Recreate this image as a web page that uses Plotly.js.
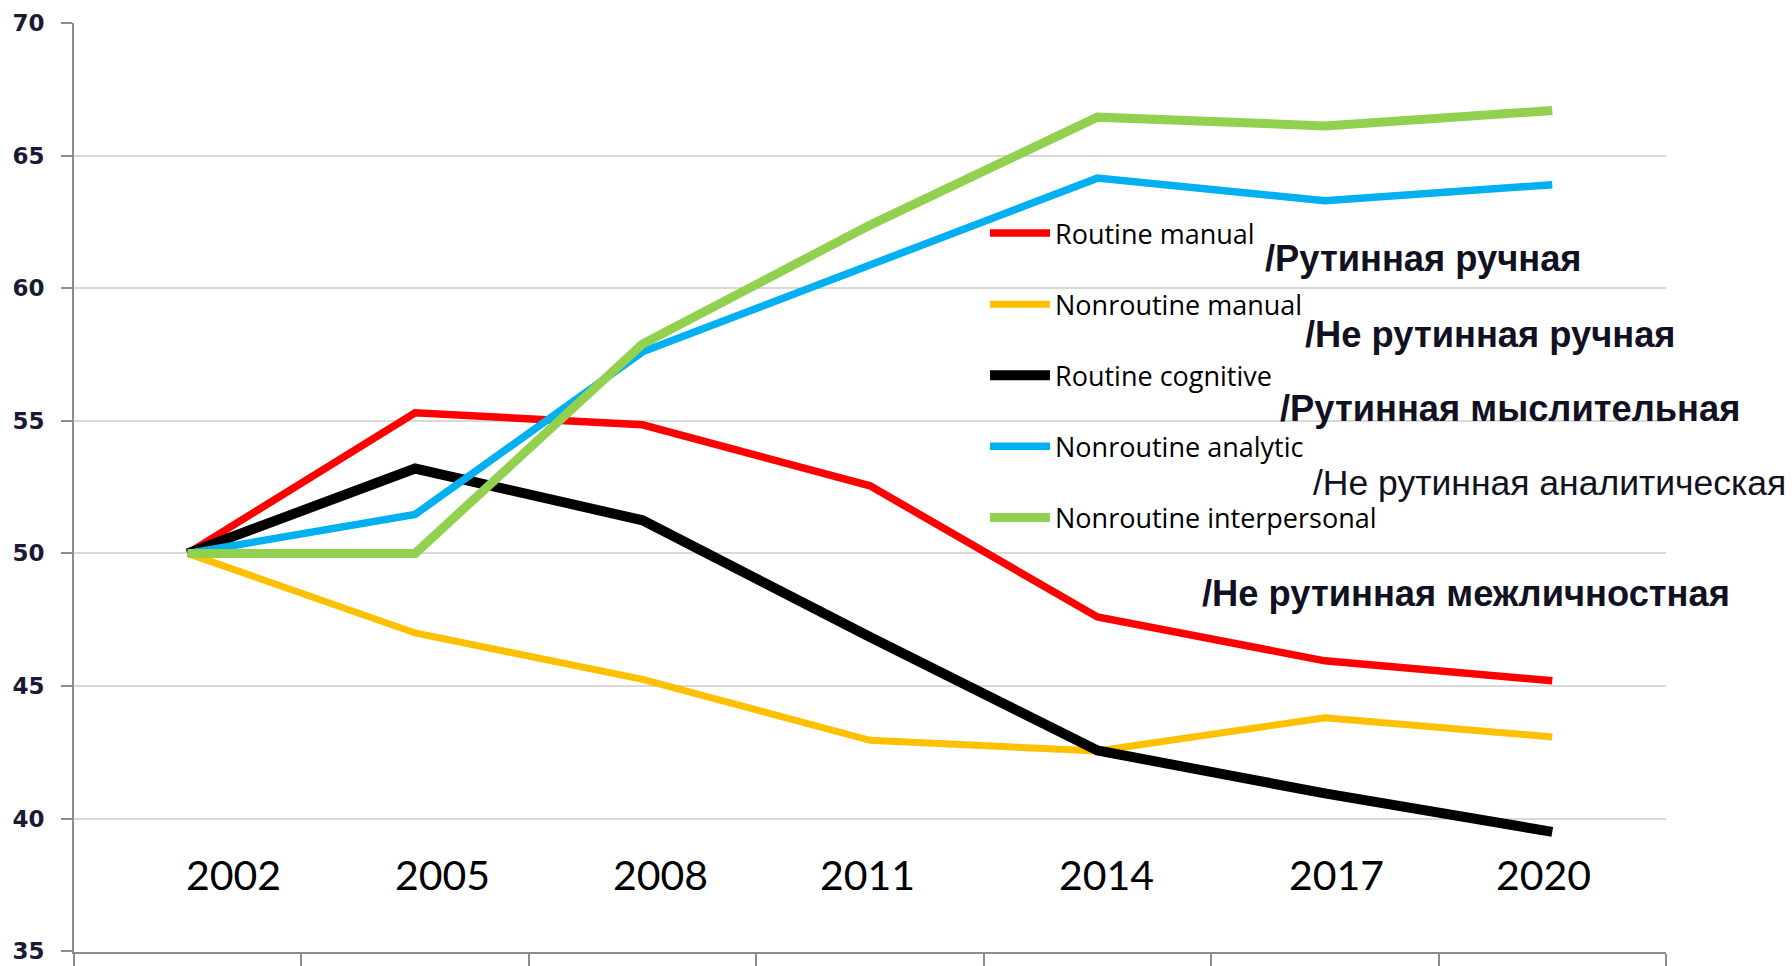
<!DOCTYPE html>
<html>
<head>
<meta charset="utf-8">
<script src="https://cdn.plot.ly/plotly-3.0.1.min.js"></script>
<style>html,body{margin:0;padding:0;background:#fff;}#chart{width:1792px;height:966px;}</style>
</head>
<body>
<div id="chart"></div>
<script>
// ---- data ----
const years = ["2002", "2005", "2008", "2011", "2014", "2017", "2020"];
const seriesNames = ["Routine manual", "Nonroutine manual", "Routine cognitive", "Nonroutine analytic", "Nonroutine interpersonal"];
const routineManual        = [50, 55.3, 54.85, 52.55, 47.6, 45.95, 45.2];
const nonroutineManual     = [50, 47.0, 45.25, 42.95, 42.55, 43.8, 43.08];
const routineCognitive     = [50, 53.2, 51.25, 46.85, 42.57, 40.95, 39.5];
const nonroutineAnalytic   = [50, 51.47, 57.6, 60.87, 64.15, 63.3, 63.9];
const nonroutineInterpers  = [50, 50, 57.9, 62.38, 66.45, 66.12, 66.7];
const russianLabels = ["/Рутинная ручная", "/Не рутинная ручная", "/Рутинная мыслительная", "/Не рутинная аналитическая", "/Не рутинная межличностная"];
const yearLabels = ["2002", "2005", "2008", "2011", "2014", "2017", "2020"];

// ---- styles / layout helpers ----
const colors = ["#ff0000", "#ffc000", "#000000", "#00b0f0", "#92d050"];
const widths = [7.5, 7, 10, 7.5, 9];
const values = [routineManual, nonroutineManual, routineCognitive, nonroutineAnalytic, nonroutineInterpers];

const W = 1792, H = 966;
const M = {l: 74, r: 126, t: 23, b: 14};
const PW = W - M.l - M.r, PH = H - M.t - M.b;
const px = x => (x - M.l) / PW;
const py = y => 1 - (y - M.t) / PH;

const traces = values.map((v, i) => ({
  type: "scatter", mode: "lines",
  x: years, y: v, name: seriesNames[i],
  legendgroup: "g" + i,
  line: {color: colors[i], width: widths[i]},
  hoverinfo: "x+y+name"
}));

// year label placement (offset from category centre, in category units)
const yearOffsets = [0.20, 0.12, 0.08, -0.01, 0.04, 0.05, -0.04];
const annotations = yearLabels.map((t, i) => ({
  text: t, xref: "x", yref: "y", x: i + yearOffsets[i], y: 37.9,
  showarrow: false, xanchor: "center", yanchor: "middle",
  font: {family: "Lato, 'Open Sans', sans-serif", size: 41, color: "#000"}
}));

const ruPos = [[1263, 258, true], [1303, 334, true], [1278, 408, true], [1311, 483, false], [1200, 593, true]];
russianLabels.forEach((t, i) => {
  const [x, y, bold] = ruPos[i];
  annotations.push({
    text: bold ? "<b>" + t + "</b>" : t,
    xref: "paper", yref: "paper", x: px(x), y: py(y),
    showarrow: false, xanchor: "left", yanchor: "middle",
    font: {family: "'Liberation Sans', Arial, sans-serif", size: bold ? 36.3 : 35.5, color: "#111122"}
  });
});

const layout = {
  width: W, height: H,
  margin: M,
  paper_bgcolor: "#fff", plot_bgcolor: "#fff",
  showlegend: true,
  legend: {
    x: px(985), y: py(209), xanchor: "left", yanchor: "top",
    bgcolor: "rgba(0,0,0,0)", borderwidth: 0,
    font: {family: "'Open Sans', Lato, sans-serif", size: 27, color: "#000"},
    tracegroupgap: 33, itemwidth: 60, traceorder: "grouped"
  },
  xaxis: {
    type: "category", categoryorder: "array", categoryarray: years,
    range: [-0.5, 6.5],
    showticklabels: false, showgrid: false, zeroline: false,
    showline: true, linecolor: "#8c8c8c", linewidth: 2,
    ticks: "outside", tickson: "boundaries", ticklen: 14, tickwidth: 2, tickcolor: "#8c8c8c"
  },
  yaxis: {
    range: [34.97, 70], tickvals: [35, 40, 45, 50, 55, 60, 65, 70],
    showgrid: true, gridcolor: "#d9d9d9", gridwidth: 2,
    zeroline: false,
    showline: true, linecolor: "#8c8c8c", linewidth: 2,
    ticks: "outside", ticklen: 11, tickwidth: 2, tickcolor: "#8c8c8c",
    ticklabelstandoff: 12,
    tickfont: {family: "'DejaVu Sans', sans-serif", size: 23, color: "#1a1a33", weight: "bold"}
  },
  annotations: annotations
};

Plotly.newPlot("chart", traces, layout, {displayModeBar: false, staticPlot: true});
</script>
</body>
</html>
